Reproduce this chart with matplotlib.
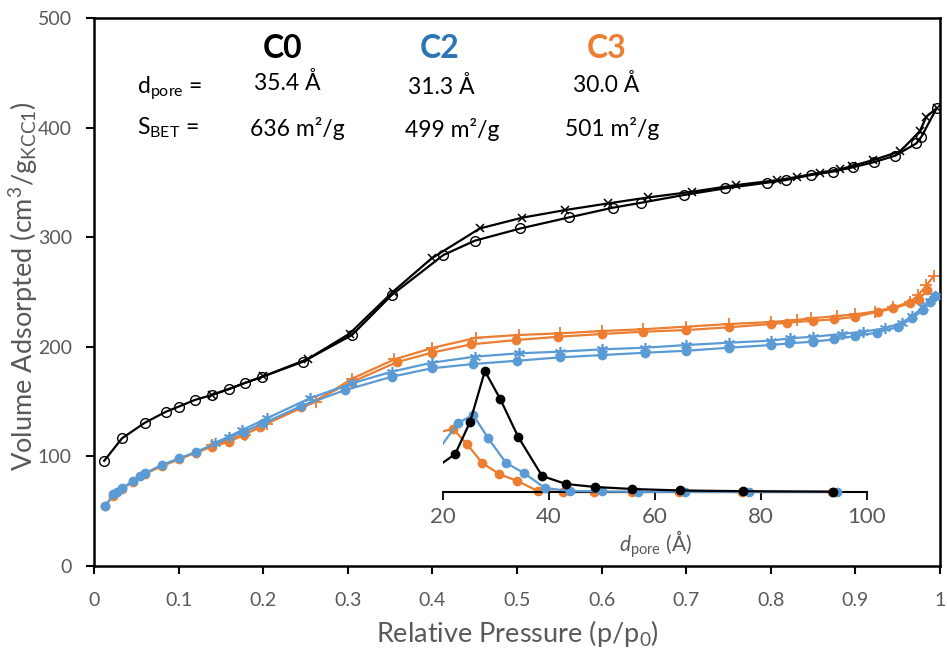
import matplotlib
matplotlib.use("Agg")
import matplotlib.pyplot as plt

plt.rcParams["font.family"] = ["Lato", "DejaVu Sans"]
plt.rcParams["mathtext.fontset"] = "custom"
plt.rcParams["mathtext.rm"] = "Lato"
plt.rcParams["mathtext.it"] = "Lato:italic"
plt.rcParams["mathtext.bf"] = "Lato:bold"

BLACK = "black"
BLUE = "#5B9BD5"
ORANGE = "#ED7D31"
GREY = "#595959"

# ---- isotherms: relative pressure vs volume adsorbed ----
c0_ads_p = [0.012, 0.033, 0.060, 0.085, 0.100, 0.119, 0.139, 0.159, 0.179, 0.199,
            0.247, 0.305, 0.352, 0.413, 0.450, 0.504, 0.561, 0.613, 0.647, 0.697,
            0.746, 0.796, 0.818, 0.848, 0.873, 0.897, 0.922, 0.947, 0.972, 0.978, 0.996]
c0_ads_v = [96, 116.5, 130.7, 140.8, 145.4, 151.5, 156.0, 161.2, 167.3, 172.7,
            186.4, 210.8, 247.3, 283.8, 296.8, 308.0, 318.0, 326.9, 331.5, 338.5,
            344.6, 349.8, 352.2, 356.8, 359.8, 363.8, 368.5, 374.4, 385.6, 391.7, 417.6]
c0_des_p = [0.996, 0.984, 0.976, 0.953, 0.921, 0.896, 0.882, 0.858, 0.831, 0.807,
            0.759, 0.707, 0.655, 0.608, 0.557, 0.506, 0.456, 0.399, 0.353, 0.302,
            0.253, 0.200, 0.139]
c0_des_v = [417.6, 410, 396.6, 378.4, 370.4, 365, 362, 359, 355, 352,
            347.6, 341.5, 336.3, 330.9, 324.8, 317.8, 308, 280.7, 250, 212,
            189, 173, 156]

c2_ads_p = [0.013, 0.023, 0.027, 0.033, 0.046, 0.054, 0.060, 0.080, 0.101, 0.121,
            0.177, 0.200, 0.245, 0.297, 0.352, 0.399, 0.448, 0.500, 0.551, 0.601,
            0.651, 0.700, 0.751, 0.800, 0.821, 0.850, 0.875, 0.900, 0.925, 0.950,
            0.967, 0.980, 0.988, 0.994]
c2_ads_v = [54.7, 65.4, 67.8, 70.9, 77.6, 82.1, 84.5, 92.2, 98.3, 104.3,
            122.5, 130.2, 146, 160.6, 172.7, 180.4, 184.3, 187.3, 190.4, 192.5,
            194.6, 196.4, 199.2, 201.6, 203.2, 204.7, 206.8, 209.9, 212.9, 218,
            226, 233.6, 241, 246.4]
c2_des_p = [0.994, 0.988, 0.980, 0.967, 0.955, 0.935, 0.909, 0.884, 0.850, 0.823,
            0.800, 0.751, 0.700, 0.651, 0.601, 0.551, 0.502, 0.450, 0.399, 0.352,
            0.305, 0.255, 0.204, 0.175, 0.159, 0.143]
c2_des_v = [246.4, 242, 236, 228, 222, 216.8, 213.8, 211.7, 209.2, 207.8,
            205.6, 203.8, 201.6, 199.2, 197.7, 195.6, 194.1, 191, 185.5, 177.3,
            166.7, 153, 134.7, 124, 118, 112.5]

c3_ads_p = [0.013, 0.023, 0.033, 0.046, 0.060, 0.080, 0.101, 0.121, 0.139, 0.159,
            0.177, 0.196, 0.245, 0.305, 0.358, 0.399, 0.446, 0.499, 0.549, 0.600,
            0.649, 0.700, 0.750, 0.800, 0.819, 0.850, 0.875, 0.900, 0.927, 0.945,
            0.965, 0.975, 0.985]
c3_ads_v = [55, 64, 70, 77, 84, 91, 97.5, 103.5, 108.8, 113.4,
            119.4, 127, 145, 168, 186, 194.6, 202.3, 206.2, 209.2, 211.7,
            213.8, 215.3, 217.8, 220.8, 222, 223.8, 225.1, 227.5, 232.1, 235,
            240, 243, 252]
c3_des_p = [0.993, 0.984, 0.974, 0.965, 0.945, 0.923, 0.900, 0.878, 0.848, 0.831,
            0.800, 0.751, 0.700, 0.649, 0.600, 0.551, 0.502, 0.452, 0.400, 0.355,
            0.305, 0.262, 0.204, 0.178, 0.159, 0.140]
c3_des_v = [265, 256, 247, 241, 236, 232.1, 229.7, 228.1, 226, 224.5,
            222.6, 220.8, 218.4, 216, 214.4, 212.3, 210.8, 208.3, 199, 188.5,
            171, 150, 130, 120, 115, 110]

# ---- pore size distribution (inset, arbitrary units) ----
c0_psd_d = [17.5, 22.3, 25.1, 27.9, 30.8, 34.2, 38.7, 43.2, 48.7, 55.7, 64.7, 76.6, 93.6]
c0_psd_y = [20, 38, 70, 121, 93, 55, 16, 8, 5, 3, 1.5, 0.8, 0.3]
c2_psd_d = [17.5, 22.8, 25.7, 28.5, 31.9, 35.3, 39.2, 44.0, 50.0, 56.8, 65.7, 77.7, 94.3]
c2_psd_y = [30, 69, 77, 54, 29, 19, 4, 1, 0.5, 0.2, 0.1, 0, 0]
c3_psd_d = [17.5, 21.9, 24.5, 27.4, 30.6, 34.0, 37.9, 42.6, 48.5, 55.7, 64.5, 76.4, 93.4]
c3_psd_y = [58, 63, 48, 29, 18, 11, 1, 0, 0, 0, 0, 0, 0]

fig = plt.figure(figsize=(9.47, 6.53), dpi=100)
ax = fig.add_axes([0.0993, 0.1332, 0.8933, 0.8392])

lw = 1.6
ax.plot(c3_ads_p, c3_ads_v, color=ORANGE, lw=lw, marker="o", ms=6, zorder=2)
ax.plot(c3_des_p, c3_des_v, color=ORANGE, lw=lw, marker="+", ms=8, mew=1.3, zorder=2)
ax.plot(c2_ads_p, c2_ads_v, color=BLUE, lw=lw, marker="o", ms=6, zorder=3)
ax.plot(c2_des_p, c2_des_v, color=BLUE, lw=lw, marker=(6, 2, 0), ms=8, mew=1.2, zorder=3)
ax.plot(c0_ads_p, c0_ads_v, color=BLACK, lw=lw, marker="o", ms=7, mfc="none", mew=1, zorder=4)
ax.plot(c0_des_p, c0_des_v, color=BLACK, lw=lw, marker="x", ms=6, mew=1.1, zorder=4)

ax.set_xlim(0, 1)
ax.set_ylim(0, 500)
ax.set_xticks([i / 10 for i in range(11)])
ax.set_xticklabels(["0", "0.1", "0.2", "0.3", "0.4", "0.5", "0.6", "0.7", "0.8", "0.9", "1"])
ax.set_yticks(range(0, 501, 100))
for s in ax.spines.values():
    s.set_linewidth(1.8)
    s.set_color("black")
ax.tick_params(axis="x", direction="out", length=6, width=1.5, pad=13,
               labelsize=14, labelcolor=GREY)
ax.tick_params(axis="y", direction="out", length=6, width=1.5, pad=10,
               labelsize=14, labelcolor=GREY)
ax.set_xlabel("Relative Pressure (p/p$_0$)", fontsize=19.5, color=GREY)
ax.set_ylabel("Volume Adsorpted (cm$^3$/g$_{\\mathrm{KCC1}}$)", fontsize=19.5, color=GREY)
ax.xaxis.set_label_coords(0.5, -0.095)
ax.yaxis.set_label_coords(-0.064, 0.51)

# ---- text block ----
tk = dict(transform=ax.transAxes, ha="center", va="center")
ax.text(0.223, 0.945, "C0", fontsize=23, fontweight="bold", color="black", **tk)
ax.text(0.409, 0.945, "C2", fontsize=23, fontweight="bold", color="#2E75B6", **tk)
ax.text(0.606, 0.945, "C3", fontsize=23, fontweight="bold", color=ORANGE, **tk)
ax.text(0.051, 0.872, "d$_{\\mathrm{pore}}$ =", fontsize=16.5, transform=ax.transAxes,
        ha="left", va="center")
ax.text(0.051, 0.799, "S$_{\\mathrm{BET}}$ =", fontsize=16.5, transform=ax.transAxes,
        ha="left", va="center")
ax.text(0.228, 0.881, "35.4 Å", fontsize=16.5, **tk)
ax.text(0.411, 0.874, "31.3 Å", fontsize=16.5, **tk)
ax.text(0.605, 0.878, "30.0 Å", fontsize=16.5, **tk)
ax.text(0.240, 0.799, "636 m²/g", fontsize=16.5, **tk)
ax.text(0.424, 0.796, "499 m²/g", fontsize=16.5, **tk)
ax.text(0.613, 0.799, "501 m²/g", fontsize=16.5, **tk)

# ---- inset ----
# axes box reaches a bit below the spine so markers on the baseline are not cut
ins = fig.add_axes([0.4678, 0.2374, 0.4477, 0.2112])
ins.patch.set_alpha(0)
ins.plot(c3_psd_d, c3_psd_y, color=ORANGE, lw=lw, marker="o", ms=6, zorder=2)
ins.plot(c2_psd_d, c2_psd_y, color=BLUE, lw=lw, marker="o", ms=6, zorder=3)
ins.plot(c0_psd_d, c0_psd_y, color=BLACK, lw=lw, marker="o", ms=6, zorder=4)
ins.set_xlim(20, 100)
ins.set_ylim(-6, 132)
ins.set_xticks([20, 40, 60, 80, 100])
ins.set_yticks([])
for side in ["left", "right", "top"]:
    ins.spines[side].set_visible(False)
ins.spines["bottom"].set_position(("data", 0))
ins.spines["bottom"].set_linewidth(1.5)
ins.tick_params(axis="x", direction="out", length=6, width=1.3, pad=5,
                labelsize=16, labelcolor=GREY)
ins.set_xlabel("$d_{\\mathrm{pore}}$ (Å)", fontsize=15, color=GREY, labelpad=1)

fig.savefig("out.png", dpi=100)
